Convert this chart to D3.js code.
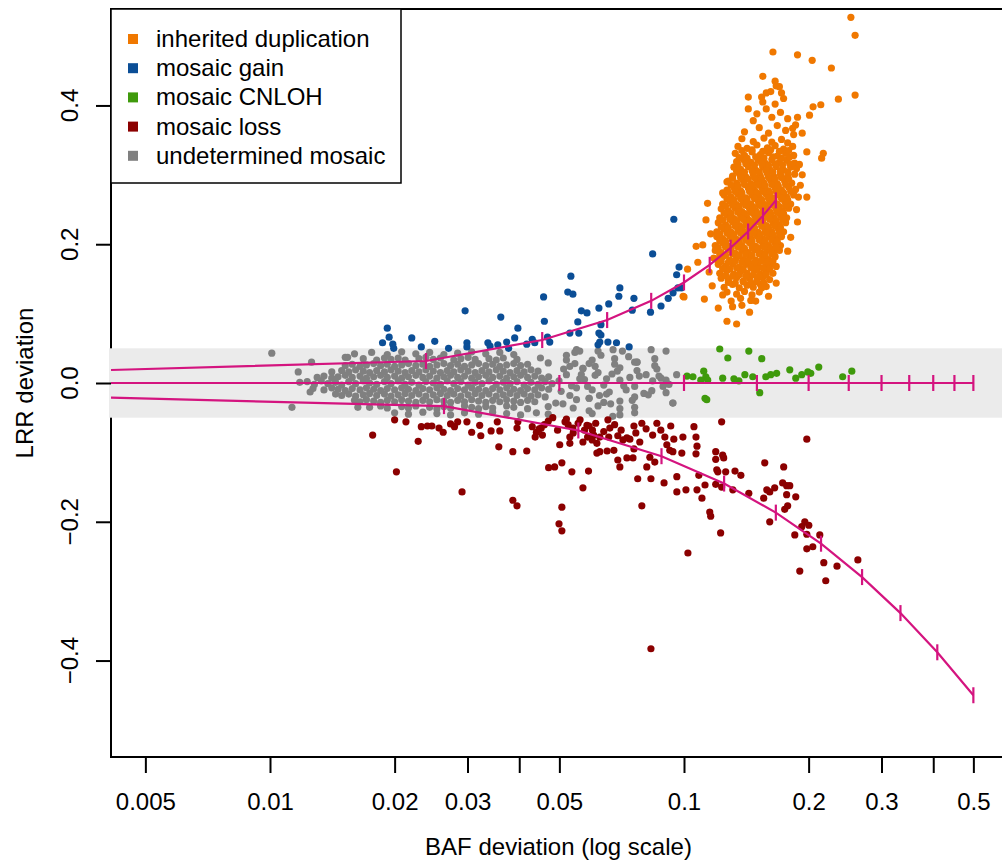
<!DOCTYPE html>
<html>
<head>
<meta charset="utf-8">
<script src="https://cdn.jsdelivr.net/npm/d3@7"></script>
<style>
body{margin:0;background:#fff}
svg{display:block}
text{font-family:"Liberation Sans",Arial,Helvetica,sans-serif;fill:#000}
</style>
</head>
<body>
<script>
// legend / series
const categories = ["inherited duplication","mosaic gain","mosaic CNLOH","mosaic loss","undetermined mosaic"];
const catColors = ["#f07800","#0b4e96","#3f9a0c","#8b0000","#808080"];

// axis ticks
const xTicks = [0.005,0.01,0.02,0.03,0.04,0.05,0.1,0.2,0.3,0.4,0.5];
const xTickLabels = ["0.005","0.01","0.02","0.03","","0.05","0.1","0.2","0.3","","0.5"];
const yTicks = [-0.4,-0.2,0,0.2,0.4];
const yTickLabels = ["\u22120.4","\u22120.2","0.0","0.2","0.4"];

// expected curves (BAF deviation, LRR deviation); first point sits on the left edge
const gainCurveBaf = [0.00413,0.02381,0.04545,0.06522,0.08333,0.1,0.11538,0.12963,0.14286,0.15517,0.16667];
const gainCurveLrr = [0.0187,0.0317,0.0619,0.0907,0.1184,0.1449,0.1703,0.1949,0.2184,0.2412,0.2632];
const cnlohCurveBaf = [0.00413,0.05,0.1,0.15,0.2,0.25,0.3,0.35,0.4,0.45,0.5];
const cnlohCurveLrr = [0,0,0,0,0,0,0,0,0,0,0];
const lossCurveBaf = [0.00413,0.02632,0.05556,0.08824,0.125,0.16667,0.21429,0.26923,0.33333,0.40909,0.5];
const lossCurveLrr = [-0.0212,-0.0333,-0.0684,-0.1055,-0.1449,-0.1868,-0.2316,-0.2797,-0.3316,-0.3881,-0.45];

// points [BAF deviation, LRR deviation]
const undetPoints = [
[0.0101,0.043],[0.0113,-0.035],[0.0117,0.016],[0.0118,0.001],[0.0125,-0.013],[0.0126,0.030],[0.0163,-0.035],[0.0154,0.037],
[0.0123,0.002],[0.0128,-0.002],[0.0133,0.003],[0.0138,-0.001],[0.0144,0.001],[0.0149,-0.003],[0.0155,0.002],[0.0161,-0.001],[0.0168,0.003],[0.0174,0.000],[0.0181,-0.002],[0.0189,0.002],[0.0196,-0.001],[0.0204,0.003],[0.0212,-0.002],[0.0220,0.001],[0.0229,-0.003],[0.0238,0.002],[0.0248,0.000],[0.0258,-0.002],[0.0268,0.003],[0.0278,-0.001],[0.0289,0.002],[0.0301,-0.003],[0.0313,0.001],[0.0325,-0.001],[0.0338,0.003],[0.0352,-0.002],[0.0366,0.001],[0.0380,-0.001],[0.0395,0.002],[0.0411,-0.003],[0.0427,0.001],[0.0444,-0.002],[0.0462,0.002],[0.0480,-0.001],[0.0499,0.003],[0.0535,-0.004],[0.0575,0.005],[0.0640,-0.003],[0.0700,0.004],[0.0760,-0.005],[0.0840,0.003],[0.0920,-0.002],
[0.0130,0.008],[0.0135,0.010],[0.0141,0.007],[0.0146,0.009],[0.0152,0.011],[0.0158,0.008],[0.0165,0.010],[0.0171,0.007],[0.0178,0.009],[0.0185,0.011],[0.0192,0.008],[0.0200,0.010],[0.0208,0.007],[0.0216,0.009],[0.0225,0.011],[0.0234,0.008],[0.0243,0.010],[0.0253,0.007],[0.0263,0.009],[0.0273,0.011],[0.0284,0.008],[0.0295,0.010],[0.0307,0.007],[0.0319,0.009],[0.0332,0.011],[0.0345,0.008],[0.0359,0.010],[0.0373,0.007],[0.0388,0.009],[0.0403,0.011],[0.0419,0.008],[0.0436,0.010],[0.0453,0.007],[0.0471,0.009],[0.0520,0.012],[0.0560,0.006],[0.0610,0.011],[0.0670,0.013],[0.0740,0.008],[0.0810,0.012],[0.0880,0.007],
[0.0127,-0.008],[0.0135,-0.010],[0.0141,-0.007],[0.0146,-0.009],[0.0152,-0.011],[0.0158,-0.008],[0.0165,-0.010],[0.0171,-0.007],[0.0178,-0.009],[0.0185,-0.011],[0.0192,-0.008],[0.0200,-0.010],[0.0208,-0.007],[0.0216,-0.009],[0.0225,-0.011],[0.0234,-0.008],[0.0243,-0.010],[0.0253,-0.007],[0.0263,-0.009],[0.0273,-0.011],[0.0284,-0.008],[0.0295,-0.010],[0.0307,-0.007],[0.0319,-0.009],[0.0332,-0.011],[0.0345,-0.008],[0.0359,-0.010],[0.0373,-0.007],[0.0388,-0.009],[0.0403,-0.011],[0.0419,-0.008],[0.0436,-0.010],[0.0453,-0.007],[0.0471,-0.009],[0.0505,-0.012],[0.0550,-0.007],[0.0600,-0.010],[0.0660,-0.013],[0.0725,-0.010],[0.0836,-0.011],[0.0905,-0.014],
[0.0141,0.016],[0.0149,0.018],[0.0155,0.016],[0.0161,0.019],[0.0168,0.017],[0.0174,0.015],[0.0181,0.018],[0.0189,0.016],[0.0196,0.019],[0.0204,0.017],[0.0212,0.015],[0.0220,0.018],[0.0229,0.016],[0.0238,0.019],[0.0248,0.017],[0.0258,0.015],[0.0268,0.018],[0.0278,0.016],[0.0289,0.019],[0.0301,0.017],[0.0313,0.015],[0.0325,0.018],[0.0338,0.016],[0.0352,0.019],[0.0366,0.017],[0.0380,0.015],[0.0395,0.018],[0.0411,0.016],[0.0427,0.019],[0.0444,0.017],[0.0512,0.020],[0.0570,0.021],[0.0620,0.015],[0.0700,0.022],[0.0770,0.018],[0.0860,0.020],
[0.0144,-0.016],[0.0149,-0.018],[0.0155,-0.016],[0.0161,-0.019],[0.0168,-0.017],[0.0174,-0.015],[0.0181,-0.018],[0.0189,-0.016],[0.0196,-0.019],[0.0204,-0.017],[0.0212,-0.015],[0.0220,-0.018],[0.0229,-0.016],[0.0238,-0.019],[0.0248,-0.017],[0.0258,-0.015],[0.0268,-0.018],[0.0278,-0.016],[0.0289,-0.019],[0.0301,-0.017],[0.0313,-0.015],[0.0325,-0.018],[0.0338,-0.016],[0.0352,-0.019],[0.0366,-0.017],[0.0380,-0.015],[0.0395,-0.018],[0.0411,-0.016],[0.0427,-0.019],[0.0444,-0.017],[0.0462,-0.020],[0.0530,-0.018],[0.0590,-0.022],[0.0650,-0.016],[0.0760,-0.020],[0.0820,-0.017],
[0.0152,0.025],[0.0158,0.027],[0.0165,0.024],[0.0171,0.026],[0.0178,0.028],[0.0185,0.025],[0.0192,0.027],[0.0200,0.024],[0.0208,0.026],[0.0216,0.028],[0.0225,0.025],[0.0234,0.027],[0.0243,0.024],[0.0253,0.026],[0.0263,0.028],[0.0273,0.025],[0.0284,0.027],[0.0295,0.024],[0.0307,0.026],[0.0319,0.028],[0.0332,0.025],[0.0345,0.027],[0.0359,0.024],[0.0373,0.026],[0.0388,0.028],[0.0403,0.025],[0.0419,0.027],[0.0470,0.029],[0.0530,0.024],[0.0570,0.021],[0.0590,0.028],[0.0680,0.027],[0.0770,0.030],[0.0850,0.025],
[0.0160,-0.025],[0.0165,-0.027],[0.0171,-0.024],[0.0178,-0.026],[0.0185,-0.028],[0.0192,-0.025],[0.0200,-0.027],[0.0208,-0.024],[0.0216,-0.026],[0.0225,-0.028],[0.0234,-0.025],[0.0243,-0.027],[0.0253,-0.024],[0.0263,-0.026],[0.0273,-0.028],[0.0284,-0.025],[0.0295,-0.027],[0.0307,-0.024],[0.0319,-0.026],[0.0332,-0.028],[0.0345,-0.025],[0.0359,-0.027],[0.0373,-0.024],[0.0388,-0.026],[0.0403,-0.028],[0.0419,-0.025],[0.0436,-0.027],[0.0490,-0.029],[0.0550,-0.024],[0.0590,-0.022],[0.0640,-0.028],[0.0750,-0.025],[0.0940,-0.029],
[0.0152,0.037],[0.0168,0.035],[0.0181,0.033],[0.0189,0.036],[0.0196,0.034],[0.0204,0.036],[0.0212,0.033],[0.0229,0.035],[0.0238,0.037],[0.0248,0.034],[0.0258,0.036],[0.0278,0.033],[0.0289,0.035],[0.0301,0.037],[0.0313,0.034],[0.0338,0.035],[0.0352,0.033],[0.0366,0.036],[0.0395,0.034],[0.0450,0.036],[0.0520,0.033],[0.0600,0.033],[0.0680,0.035],[0.0770,0.030],
[0.0174,-0.035],[0.0185,-0.033],[0.0192,-0.036],[0.0208,-0.034],[0.0216,-0.036],[0.0225,-0.033],[0.0243,-0.035],[0.0253,-0.037],[0.0263,-0.034],[0.0273,-0.036],[0.0295,-0.033],[0.0307,-0.035],[0.0319,-0.037],[0.0332,-0.034],[0.0345,-0.036],[0.0373,-0.033],[0.0388,-0.035],[0.0419,-0.037],[0.0470,-0.034],[0.0540,-0.036],[0.0620,-0.033],[0.0700,-0.037],[0.0760,-0.035],
[0.0160,0.042],[0.0176,0.044],[0.0192,0.041],[0.0208,0.045],[0.0225,0.042],[0.0243,0.044],[0.0263,0.041],[0.0284,0.043],[0.0307,0.045],[0.0332,0.042],[0.0359,0.044],[0.0388,0.041],[0.0560,0.046],[0.0674,0.048],[0.0710,0.046],[0.0833,0.048],[0.0905,0.046],[0.0550,0.048],
[0.0200,-0.043],[0.0216,-0.045],[0.0234,-0.042],[0.0253,-0.044],[0.0273,-0.046],[0.0295,-0.043],[0.0319,-0.045],[0.0345,-0.042],[0.0373,-0.044],[0.0403,-0.046],[0.0440,-0.043],[0.0470,-0.045],[0.0600,-0.044],[0.0700,-0.046],[0.0760,-0.043],
[0.0630,0.040],[0.0760,0.030],[0.0870,0.010],[0.0905,0.004],[0.0940,-0.029],[0.0590,-0.040],[0.0673,-0.048],
[0.0520,0.040],[0.0545,0.028],[0.0565,0.012],[0.0585,-0.005],[0.0610,0.024],[0.0625,-0.018],[0.0650,0.006],[0.0665,-0.030],[0.0690,0.017],[0.0715,-0.004],[0.0735,0.038],[0.0780,0.010],[0.0800,-0.015],[0.0850,0.035],[0.0890,-0.005],[0.0960,0.012],[0.0510,-0.030],[0.0545,0.044],[0.0620,0.046],[0.0700,-0.026]
];

const lossPoints = [
[0.0200,-0.053],[0.0213,-0.056],[0.0177,-0.075],[0.0228,-0.084],[0.0202,-0.128],[0.0232,-0.063],[0.0240,-0.062],[0.0246,-0.062],[0.0256,-0.065],[0.0262,-0.071],[0.0273,-0.059],[0.0279,-0.063],[0.0284,-0.056],[0.0299,-0.056],[0.0291,-0.157],[0.0307,-0.071],[0.0321,-0.061],[0.0323,-0.076],[0.0342,-0.069],[0.0354,-0.056],[0.0359,-0.069],[0.0357,-0.092],[0.0386,-0.169],[0.0395,-0.177],[0.0386,-0.099],[0.0395,-0.065],[0.0397,-0.056],[0.0417,-0.098],[0.0430,-0.063],[0.0440,-0.071],[0.0452,-0.065],[0.0455,-0.075],[0.0471,-0.122],[0.0487,-0.121],[0.0507,-0.115],[0.0501,-0.089],[0.0507,-0.179],[0.0499,-0.203],[0.0507,-0.213],[0.0482,-0.050],[0.0516,-0.056],[0.0530,-0.078],[0.0530,-0.087],[0.0536,-0.128],[0.0570,-0.151],[0.0588,-0.127],[0.0570,-0.085],[0.0561,-0.053],[0.0583,-0.061],[0.0601,-0.068],[0.0616,-0.087],[0.0616,-0.101],[0.0539,-0.065],
[0.0447,-0.066],[0.0437,-0.078],[0.0460,-0.060],[0.0525,-0.060],[0.0540,-0.072],[0.0555,-0.058],[0.0575,-0.068],[0.0590,-0.062],[0.0605,-0.075],[0.0612,-0.058],[0.0600,-0.082],[0.0585,-0.078],
[0.0470,-0.055],[0.0495,-0.068],[0.0520,-0.052],[0.0640,-0.070],[0.0680,-0.060],[0.0705,-0.068],[0.0765,-0.072],[0.0810,-0.066],[0.0840,-0.075],
[0.0655,-0.053],[0.0662,-0.065],[0.0626,-0.078],[0.0658,-0.078],[0.0692,-0.076],[0.0712,-0.082],[0.0728,-0.079],[0.0740,-0.081],[0.0626,-0.099],[0.0652,-0.098],[0.0677,-0.097],[0.0692,-0.111],[0.0700,-0.121],[0.0728,-0.108],[0.0753,-0.108],[0.0757,-0.095],[0.0782,-0.085],[0.0757,-0.062],[0.0791,-0.058],[0.0773,-0.138],[0.0791,-0.177],[0.0832,-0.138],[0.0813,-0.121],[0.0827,-0.107],[0.0850,-0.114],[0.0832,-0.383],[0.0860,-0.058],[0.0879,-0.068],[0.0899,-0.078],[0.0909,-0.089],[0.0924,-0.097],[0.0940,-0.099],[0.0929,-0.062],[0.0895,-0.144],[0.0945,-0.081],[0.0961,-0.135],[0.0961,-0.157],[0.0988,-0.101],[0.0994,-0.078],[0.1011,-0.154],[0.1022,-0.245],[0.1057,-0.063],[0.1069,-0.078],[0.1075,-0.091],[0.1069,-0.102],[0.1086,-0.133],[0.1075,-0.154],[0.1105,-0.166],[0.1124,-0.147],[0.1154,-0.186],[0.1160,-0.192],[0.1193,-0.099],[0.1193,-0.110],[0.1200,-0.125],[0.1207,-0.128],[0.1193,-0.146],[0.1226,-0.216],[0.1233,-0.056],[0.1233,-0.150],[0.1240,-0.104],[0.1247,-0.108],[0.1261,-0.128],[0.1312,-0.154],[0.1328,-0.127],[0.1372,-0.133],[0.1434,-0.159],
[0.1558,-0.166],[0.1567,-0.115],[0.1585,-0.154],[0.1611,-0.157],[0.1611,-0.200],[0.1656,-0.151],[0.1731,-0.144],[0.1741,-0.121],[0.1770,-0.148],[0.1770,-0.161],[0.1801,-0.148],[0.1862,-0.164],[0.1780,-0.177],[0.1751,-0.182],[0.1904,-0.271],[0.1852,-0.219],[0.1925,-0.207],[0.1958,-0.200],[0.2002,-0.205],[0.1980,-0.218],[0.1980,-0.239],[0.2047,-0.236],[0.2128,-0.219],[0.2176,-0.259],[0.2200,-0.285],[0.2342,-0.264],[0.2630,-0.255],[0.1980,-0.081]
];

const cnlohPoints = [
[0.1220,0.049],[0.1276,0.036],[0.1434,0.046],[0.1541,0.035],[0.1017,0.010],[0.1051,0.009],[0.1116,0.017],[0.1129,0.009],[0.1098,0.004],[0.1141,0.004],[0.1124,-0.022],[0.1135,-0.024],[0.1240,0.007],[0.1320,0.006],[0.1357,0.003],[0.1403,0.012],[0.1466,0.009],[0.1524,-0.014],[0.1576,0.009],[0.1620,0.012],[0.1674,0.014],[0.1801,0.019],[0.1862,0.007],[0.1925,0.012],[0.1991,0.016],[0.2024,0.014],[0.2116,0.023],[0.2417,0.009],[0.2543,0.017]
];

const gainPoints = [
[0.0192,0.079],[0.0194,0.066],[0.0187,0.058],[0.0198,0.056],[0.0199,0.050],[0.0220,0.065],[0.0296,0.104],[0.0299,0.058],[0.0299,0.052],[0.0270,0.050],[0.0336,0.058],[0.0355,0.055],[0.0361,0.095],[0.0373,0.059],[0.0377,0.050],[0.0390,0.065],[0.0397,0.079],[0.0417,0.056],[0.0430,0.063],[0.0436,0.058],[0.0458,0.124],[0.0460,0.089],[0.0468,0.066],[0.0474,0.059],[0.0524,0.131],[0.0539,0.128],[0.0554,0.088],[0.0557,0.072],[0.0530,0.072],[0.0565,0.104],[0.0583,0.101],[0.0623,0.108],[0.0658,0.114],[0.0623,0.072],[0.0626,0.059],[0.0620,0.055],[0.0655,0.059],[0.0687,0.058],[0.0737,0.052],[0.0700,0.137],[0.0696,0.125],[0.0757,0.122],[0.0750,0.105],[0.0830,0.102],[0.0880,0.111],[0.0916,0.122],[0.0941,0.130],[0.0967,0.137],[0.0945,0.236],[0.0840,0.186],[0.0973,0.167],[0.0960,0.156],[0.0630,0.084],[0.0630,0.069],[0.0985,0.137],[0.0232,0.052],[0.0250,0.060],[0.0340,0.053],[0.0533,0.154]
];

const dupPoints = [
[0.138,0.352],[0.147,0.348],[0.156,0.353],[0.163,0.347],[0.172,0.351],[0.178,0.346],
[0.135,0.341],[0.142,0.338],[0.150,0.343],[0.159,0.339],[0.166,0.342],[0.174,0.337],[0.183,0.341],
[0.133,0.331],[0.140,0.328],[0.146,0.333],[0.153,0.329],[0.160,0.332],[0.168,0.327],[0.176,0.331],[0.184,0.328],
[0.134,0.319],[0.139,0.322],[0.145,0.318],[0.151,0.321],[0.157,0.317],[0.163,0.322],[0.170,0.318],[0.177,0.321],[0.185,0.317],
[0.132,0.311],[0.137,0.308],[0.143,0.312],[0.149,0.307],[0.155,0.311],[0.161,0.308],[0.167,0.312],[0.174,0.307],[0.181,0.311],[0.187,0.309],
[0.131,0.298],[0.136,0.302],[0.141,0.297],[0.147,0.301],[0.153,0.298],[0.159,0.302],[0.165,0.297],[0.171,0.301],[0.178,0.298],[0.185,0.301],
[0.128,0.291],[0.134,0.288],[0.139,0.292],[0.145,0.287],[0.150,0.291],[0.156,0.288],[0.162,0.292],[0.168,0.287],[0.175,0.291],[0.182,0.288],
[0.127,0.278],[0.132,0.282],[0.137,0.277],[0.143,0.281],[0.148,0.278],[0.154,0.282],[0.160,0.277],[0.166,0.281],[0.172,0.278],[0.179,0.282],[0.186,0.279],
[0.125,0.271],[0.130,0.268],[0.135,0.272],[0.141,0.267],[0.146,0.271],[0.152,0.268],[0.158,0.272],[0.164,0.267],[0.170,0.271],[0.177,0.268],[0.184,0.271],
[0.124,0.258],[0.129,0.262],[0.134,0.257],[0.139,0.261],[0.145,0.258],[0.151,0.262],[0.157,0.257],[0.162,0.261],[0.168,0.258],[0.175,0.262],[0.181,0.258],
[0.123,0.251],[0.128,0.248],[0.133,0.252],[0.138,0.247],[0.144,0.251],[0.149,0.248],[0.155,0.252],[0.161,0.247],[0.167,0.251],[0.173,0.248],[0.179,0.252],
[0.122,0.238],[0.127,0.242],[0.132,0.237],[0.137,0.241],[0.142,0.238],[0.148,0.242],[0.153,0.237],[0.159,0.241],[0.165,0.238],[0.171,0.242],[0.177,0.238],
[0.121,0.231],[0.126,0.228],[0.131,0.232],[0.136,0.227],[0.141,0.231],[0.147,0.228],[0.152,0.232],[0.158,0.227],[0.164,0.231],[0.170,0.228],[0.176,0.231],
[0.120,0.218],[0.125,0.222],[0.130,0.217],[0.135,0.221],[0.140,0.218],[0.146,0.222],[0.151,0.217],[0.157,0.221],[0.163,0.218],[0.169,0.222],[0.174,0.218],
[0.120,0.211],[0.124,0.208],[0.129,0.212],[0.134,0.207],[0.139,0.211],[0.145,0.208],[0.150,0.212],[0.156,0.207],[0.161,0.211],[0.167,0.208],[0.172,0.211],
[0.119,0.198],[0.124,0.202],[0.128,0.197],[0.133,0.201],[0.138,0.198],[0.144,0.202],[0.149,0.197],[0.155,0.201],[0.160,0.198],[0.166,0.202],[0.171,0.198],
[0.119,0.191],[0.123,0.188],[0.128,0.192],[0.133,0.187],[0.138,0.191],[0.143,0.188],[0.148,0.192],[0.154,0.187],[0.159,0.191],[0.165,0.188],[0.170,0.191],
[0.120,0.178],[0.124,0.182],[0.129,0.177],[0.134,0.181],[0.139,0.178],[0.144,0.182],[0.149,0.177],[0.155,0.181],[0.160,0.178],[0.166,0.182],
[0.121,0.171],[0.126,0.168],[0.131,0.172],[0.136,0.167],[0.141,0.171],[0.146,0.168],[0.151,0.172],[0.157,0.167],[0.162,0.171],[0.167,0.168],
[0.122,0.158],[0.127,0.162],[0.132,0.157],[0.137,0.161],[0.142,0.158],[0.148,0.162],[0.153,0.157],[0.158,0.161],[0.164,0.158],
[0.123,0.151],[0.128,0.148],[0.134,0.152],[0.139,0.147],[0.144,0.151],[0.150,0.148],[0.155,0.152],[0.161,0.149],
[0.125,0.138],[0.131,0.142],[0.136,0.137],[0.142,0.141],[0.147,0.138],[0.153,0.142],[0.158,0.139],
[0.127,0.131],[0.134,0.128],[0.140,0.132],[0.146,0.127],[0.152,0.131],
[0.130,0.118],[0.137,0.122],[0.145,0.119],
[0.138,0.335],[0.146,0.336],[0.155,0.334],[0.162,0.336],[0.170,0.334],[0.179,0.335],
[0.136,0.325],[0.142,0.324],[0.149,0.326],[0.156,0.324],[0.164,0.326],[0.172,0.324],[0.180,0.326],
[0.135,0.315],[0.141,0.316],[0.148,0.314],[0.154,0.316],[0.160,0.314],[0.166,0.316],[0.173,0.314],[0.180,0.316],
[0.134,0.305],[0.140,0.304],[0.146,0.306],[0.152,0.304],[0.158,0.306],[0.164,0.304],[0.171,0.306],[0.178,0.304],
[0.131,0.295],[0.137,0.296],[0.143,0.294],[0.148,0.296],[0.154,0.294],[0.160,0.296],[0.166,0.294],[0.172,0.296],[0.179,0.294],
[0.130,0.285],[0.135,0.284],[0.140,0.286],[0.146,0.284],[0.151,0.286],[0.157,0.284],[0.163,0.286],[0.169,0.284],[0.176,0.286],
[0.128,0.275],[0.133,0.276],[0.138,0.274],[0.144,0.276],[0.150,0.274],[0.155,0.276],[0.161,0.274],[0.167,0.276],[0.174,0.274],[0.181,0.276],
[0.127,0.265],[0.132,0.264],[0.137,0.266],[0.142,0.264],[0.148,0.266],[0.154,0.264],[0.160,0.266],[0.165,0.264],[0.172,0.266],[0.178,0.264],
[0.126,0.255],[0.131,0.256],[0.136,0.254],[0.141,0.256],[0.147,0.254],[0.152,0.256],[0.158,0.254],[0.164,0.256],[0.170,0.254],[0.176,0.256],
[0.125,0.245],[0.130,0.244],[0.135,0.246],[0.140,0.244],[0.145,0.246],[0.151,0.244],[0.156,0.246],[0.162,0.244],[0.168,0.246],[0.174,0.244],
[0.124,0.235],[0.129,0.236],[0.134,0.234],[0.139,0.236],[0.144,0.234],[0.149,0.236],[0.155,0.234],[0.161,0.236],[0.167,0.234],[0.173,0.236],
[0.123,0.225],[0.128,0.224],[0.133,0.226],[0.138,0.224],[0.143,0.226],[0.148,0.224],[0.154,0.226],[0.160,0.224],[0.166,0.226],[0.171,0.224],
[0.122,0.215],[0.127,0.216],[0.132,0.214],[0.137,0.216],[0.142,0.214],[0.147,0.216],[0.153,0.214],[0.158,0.216],[0.164,0.214],[0.170,0.216],
[0.122,0.205],[0.126,0.204],[0.131,0.206],[0.136,0.204],[0.141,0.206],[0.146,0.204],[0.152,0.206],[0.157,0.204],[0.163,0.206],[0.168,0.204],
[0.121,0.195],[0.126,0.196],[0.130,0.194],[0.135,0.196],[0.140,0.194],[0.146,0.196],[0.151,0.194],[0.156,0.196],[0.162,0.194],[0.167,0.196],
[0.122,0.185],[0.126,0.184],[0.131,0.186],[0.136,0.184],[0.141,0.186],[0.146,0.184],[0.152,0.186],[0.157,0.184],[0.163,0.186],
[0.123,0.175],[0.128,0.174],[0.133,0.176],[0.138,0.174],[0.143,0.176],[0.148,0.174],[0.154,0.176],[0.159,0.174],[0.164,0.176],
[0.124,0.165],[0.129,0.164],[0.134,0.166],[0.139,0.164],[0.145,0.166],[0.150,0.164],[0.155,0.166],[0.161,0.164],
[0.126,0.155],[0.131,0.154],[0.136,0.156],[0.141,0.154],[0.147,0.156],[0.152,0.154],[0.158,0.156],
[0.128,0.145],[0.133,0.144],[0.139,0.146],[0.145,0.144],[0.150,0.146],[0.156,0.144],
[0.140,0.362],[0.152,0.368],[0.160,0.360],[0.168,0.371],[0.176,0.364],[0.184,0.358],[0.147,0.378],[0.163,0.383],[0.171,0.390],[0.158,0.395],[0.178,0.381],[0.186,0.372],[0.155,0.405],[0.166,0.402],[0.150,0.388],[0.143,0.395],[0.174,0.410],[0.162,0.420],[0.167,0.428],
[0.107,0.197],[0.111,0.199],[0.113,0.235],[0.114,0.259],[0.108,0.174],[0.102,0.164],[0.100,0.124],[0.112,0.121],[0.124,0.274],[0.127,0.290],[0.116,0.215],[0.118,0.180],[0.115,0.160],[0.117,0.140],
[0.127,0.089],[0.134,0.085],[0.144,0.102],[0.124,0.127],[0.131,0.110],[0.138,0.112],[0.154,0.137],[0.167,0.144],[0.160,0.125],[0.149,0.118],[0.121,0.108],
[0.217,0.331],[0.215,0.324],[0.198,0.268],[0.189,0.268],[0.188,0.232],[0.193,0.300],[0.193,0.360],[0.188,0.383],[0.183,0.367],[0.198,0.333],[0.190,0.315],[0.187,0.250],[0.191,0.285],[0.181,0.210],[0.178,0.190],
[0.253,0.527],[0.259,0.501],[0.164,0.477],[0.188,0.473],[0.204,0.465],[0.227,0.454],[0.259,0.415],[0.236,0.409],[0.214,0.401],[0.205,0.398],[0.201,0.386],[0.155,0.442],[0.166,0.435],[0.143,0.412],[0.154,0.412],[0.158,0.418],[0.170,0.427],[0.172,0.418],
[0.0995,0.125]
];

const width = 1002, height = 861;
const plotLeft = 111, plotTop = 9, plotRight = 1006, plotBottom = 757;

const x = d3.scaleLog().domain([0.00413, 0.5995]).range([plotLeft, plotRight]);
const y = d3.scaleLinear().domain([-0.539, 0.539]).range([plotBottom, plotTop]);

const svg = d3.select("body").append("svg")
  .attr("width", width)
  .attr("height", height)
  .style("overflow", "hidden");

svg.append("defs").append("clipPath").attr("id", "plotclip")
  .append("rect")
  .attr("x", plotLeft).attr("y", plotTop)
  .attr("width", plotRight - plotLeft).attr("height", plotBottom - plotTop);

// plot frame
svg.append("rect")
  .attr("x", plotLeft).attr("y", plotTop)
  .attr("width", plotRight - plotLeft).attr("height", plotBottom - plotTop)
  .attr("fill", "none").attr("stroke", "#000").attr("stroke-width", 2);

// grey band +-0.05
svg.append("rect")
  .attr("x", plotLeft - 2).attr("y", y(0.05))
  .attr("width", plotRight - plotLeft + 2).attr("height", y(-0.05) - y(0.05))
  .attr("fill", "#ebebeb");

// x axis
const xAxis = svg.append("g")
  .attr("transform", `translate(0,${plotBottom})`)
  .call(d3.axisBottom(x).tickValues(xTicks).tickSize(16).tickPadding(20)
    .tickFormat((d, i) => xTickLabels[i]));
xAxis.select(".domain").remove();
xAxis.selectAll(".tick line").attr("stroke", "#000").attr("stroke-width", 2);
xAxis.selectAll(".tick text").attr("font-size", 24).attr("fill", "#000")
  .attr("font-family", "Liberation Sans, Arial, sans-serif");

// y axis
const yAxis = svg.append("g")
  .attr("transform", `translate(${plotLeft},0)`)
  .call(d3.axisLeft(y).tickValues(yTicks).tickSize(15).tickFormat(""));
yAxis.select(".domain").remove();
yAxis.selectAll(".tick line").attr("stroke", "#000").attr("stroke-width", 2);

svg.selectAll(".ylab").data(yTicks).join("text")
  .attr("class", "ylab")
  .attr("transform", d => `translate(78,${y(d)}) rotate(-90)`)
  .attr("text-anchor", "middle")
  .attr("font-size", 24)
  .text((d, i) => yTickLabels[i]);

svg.append("text")
  .attr("x", (plotLeft + plotRight) / 2).attr("y", 855)
  .attr("text-anchor", "middle").attr("font-size", 24)
  .text("BAF deviation (log scale)");

svg.append("text")
  .attr("transform", `translate(33,${(plotTop + plotBottom) / 2}) rotate(-90)`)
  .attr("text-anchor", "middle").attr("font-size", 24)
  .text("LRR deviation");

// points
const series = [
  {pts: undetPoints, col: catColors[4]},
  {pts: lossPoints, col: catColors[3]},
  {pts: cnlohPoints, col: catColors[2]},
  {pts: gainPoints, col: catColors[1]},
  {pts: dupPoints, col: catColors[0]}
];
const pg = svg.append("g").attr("clip-path", "url(#plotclip)");
series.forEach(s => {
  pg.append("g").selectAll("circle").data(s.pts).join("circle")
    .attr("cx", d => x(d[0]))
    .attr("cy", d => y(d[1]))
    .attr("r", 3.6)
    .attr("fill", s.col);
});

// expected curves with cell-fraction ticks
const pink = "#d4147f";
const line = d3.line().x(d => x(d[0])).y(d => y(d[1]));
const curves = [
  d3.zip(gainCurveBaf, gainCurveLrr),
  d3.zip(cnlohCurveBaf, cnlohCurveLrr),
  d3.zip(lossCurveBaf, lossCurveLrr)
];
const cg = svg.append("g").attr("clip-path", "url(#plotclip)");
curves.forEach(c => {
  cg.append("path").datum(c)
    .attr("d", line)
    .attr("fill", "none").attr("stroke", pink).attr("stroke-width", 2.2);
  cg.append("g").selectAll("line").data(c.slice(1)).join("line")
    .attr("x1", d => x(d[0])).attr("x2", d => x(d[0]))
    .attr("y1", d => y(d[1]) - 8).attr("y2", d => y(d[1]) + 8)
    .attr("stroke", pink).attr("stroke-width", 2.2);
});

// legend
const lg = svg.append("g");
lg.append("rect")
  .attr("x", plotLeft).attr("y", plotTop)
  .attr("width", 290).attr("height", 174)
  .attr("fill", "#fff").attr("stroke", "#000").attr("stroke-width", 1.5);
const items = lg.selectAll(".item").data(categories).join("g")
  .attr("class", "item")
  .attr("transform", (d, i) => `translate(0,${39 + i * 29.2})`);
items.append("rect")
  .attr("x", 128).attr("y", -5).attr("width", 10).attr("height", 10)
  .attr("fill", (d, i) => catColors[i]);
items.append("text")
  .attr("x", 156).attr("y", 8)
  .attr("font-size", 24)
  .text(d => d);
</script>
</body>
</html>
